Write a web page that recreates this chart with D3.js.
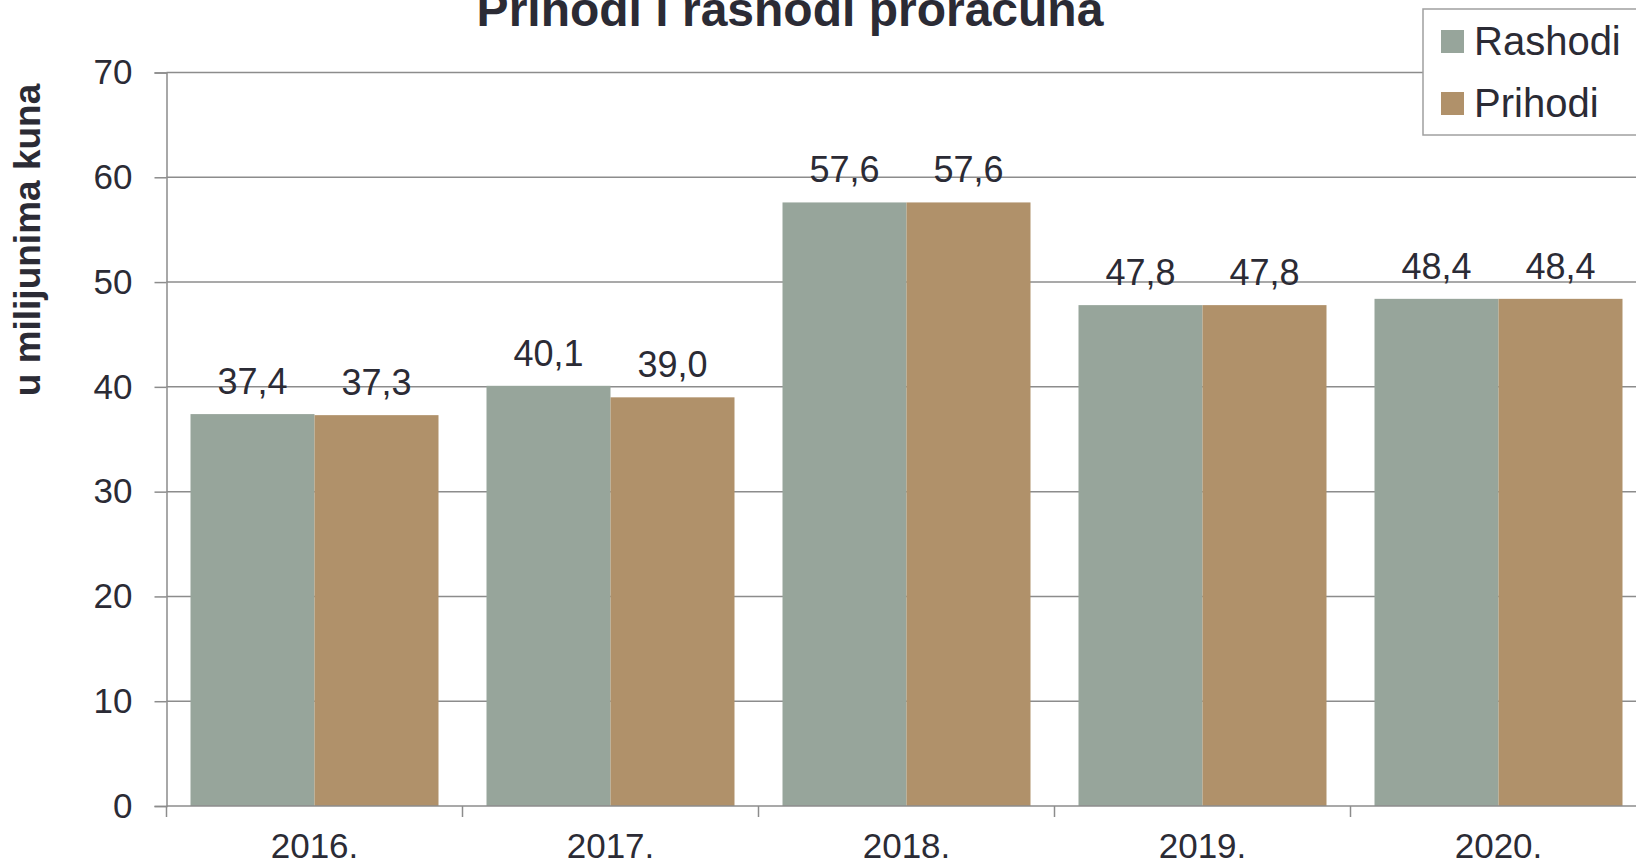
<!DOCTYPE html>
<html>
<head>
  <meta charset="utf-8">
  <script src="https://d3js.org/d3.v7.min.js"></script>
  <style>
    body { margin: 0; background: #fff; overflow: hidden; }
    text { font-family: "Liberation Sans", Arial, sans-serif; fill: #2b2b35; }
  </style>
</head>
<body>
<script>
// chart data
var years = ["2016.", "2017.", "2018.", "2019.", "2020."];
var seriesNames = ["Rashodi", "Prihodi"];
var rashodi = [37.4, 40.1, 57.6, 47.8, 48.4];
var prihodi = [37.3, 39.0, 57.6, 47.8, 48.4];
var yTicks = [0, 10, 20, 30, 40, 50, 60, 70];
var colors = ["#97a59b", "#b0916a"];

var width = 1636, height = 866;
var plotLeft = 166.5, plotRight = 1646.5, plotTop = 72.5, plotBottom = 806;

var svg = d3.select("body").append("svg")
  .attr("width", width).attr("height", height);

var x = d3.scaleBand().domain(years).range([plotLeft, plotRight])
  .paddingInner(48 / 296).paddingOuter(24 / 296);
var xs = d3.scaleBand().domain(seriesNames).range([0, x.bandwidth()]);
var y = d3.scaleLinear().domain([0, 70]).range([plotBottom, plotTop]);

// gridlines
svg.append("g").selectAll("line").data(yTicks.filter(function(d) { return d > 0; }))
  .enter().append("line")
  .attr("x1", plotLeft).attr("x2", width)
  .attr("y1", function(d) { return y(d); }).attr("y2", function(d) { return y(d); })
  .attr("stroke", "#8c8c8c").attr("stroke-width", 1.5);

// bars
var rows = years.map(function(yr, i) {
  return { year: yr, values: [rashodi[i], prihodi[i]] };
});
var groups = svg.append("g").selectAll("g").data(rows).enter().append("g")
  .attr("transform", function(d) { return "translate(" + x(d.year) + ",0)"; });

groups.selectAll("rect").data(function(d) { return d.values; })
  .enter().append("rect")
  .attr("x", function(d, i) { return xs(seriesNames[i]); })
  .attr("width", xs.bandwidth())
  .attr("y", function(d) { return y(d); })
  .attr("height", function(d) { return plotBottom - y(d); })
  .attr("fill", function(d, i) { return colors[i]; });

groups.selectAll("text").data(function(d) { return d.values; })
  .enter().append("text")
  .attr("x", function(d, i) { return xs(seriesNames[i]) + xs.bandwidth() / 2; })
  .attr("y", function(d) { return y(d) - 20; })
  .attr("text-anchor", "middle")
  .style("font-size", "36px")
  .text(function(d) { return d3.format(".1f")(d).replace(".", ","); });

// y axis
var yAxis = svg.append("g").attr("transform", "translate(" + plotLeft + ",0)")
  .call(d3.axisLeft(y).tickValues(yTicks).tickSize(12).tickPadding(22));
yAxis.select(".domain").attr("stroke", "#8c8c8c").attr("stroke-width", 1.5);
yAxis.selectAll(".tick line").attr("stroke", "#8c8c8c").attr("stroke-width", 1.5);
yAxis.selectAll(".tick text").style("font-size", "35px").attr("fill", "#2b2b35");

// x axis: ticks at category boundaries
var xAxis = svg.append("g");
xAxis.append("line").attr("x1", plotLeft).attr("x2", width)
  .attr("y1", plotBottom).attr("y2", plotBottom)
  .attr("stroke", "#8c8c8c").attr("stroke-width", 1.5);
xAxis.selectAll(".xt").data(years).enter().append("line")
  .attr("x1", function(d) { return x(d) - x.step() * x.paddingOuter(); })
  .attr("x2", function(d) { return x(d) - x.step() * x.paddingOuter(); })
  .attr("y1", plotBottom).attr("y2", plotBottom + 11)
  .attr("stroke", "#8c8c8c").attr("stroke-width", 1.5);
xAxis.selectAll(".xl").data(years).enter().append("text")
  .attr("x", function(d) { return x(d) + x.bandwidth() / 2; })
  .attr("y", 858)
  .attr("text-anchor", "middle")
  .style("font-size", "35px")
  .text(function(d) { return d; });

// y axis title
svg.append("text")
  .attr("transform", "translate(40,240) rotate(-90)")
  .attr("text-anchor", "middle")
  .style("font-size", "37px").style("font-weight", "bold")
  .text("u milijunima kuna");

// title (top is cut by the edge, as in the original)
svg.append("text")
  .attr("x", 790).attr("y", 26)
  .attr("text-anchor", "middle")
  .style("font-size", "48px").style("font-weight", "bold")
  .text("Prihodi i rashodi proračuna");

// legend
var legend = svg.append("g").attr("transform", "translate(1423,9)");
legend.append("rect").attr("width", 260).attr("height", 126)
  .attr("fill", "#fff").attr("stroke", "#a0a0a0").attr("stroke-width", 1.5);
var li = legend.selectAll(".li").data(seriesNames).enter().append("g")
  .attr("transform", function(d, i) { return "translate(0," + (i * 62) + ")"; });
li.append("rect").attr("x", 18).attr("y", 21).attr("width", 23).attr("height", 23)
  .attr("fill", function(d, i) { return colors[i]; });
li.append("text").attr("x", 51).attr("y", 46)
  .style("font-size", "40px")
  .text(function(d) { return d; });
</script>
</body>
</html>
